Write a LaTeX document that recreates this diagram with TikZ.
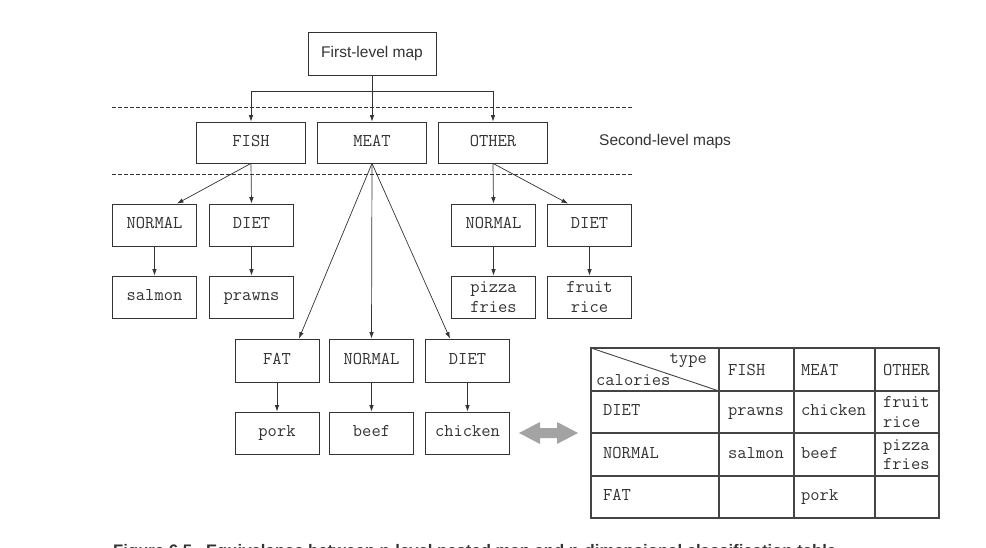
\documentclass[tikz,border=0pt]{standalone}
\usepackage{fontspec}
\setmainfont{Liberation Sans}
\usetikzlibrary{arrows.meta,calc}
\definecolor{ink}{HTML}{333333}
\definecolor{tblink}{HTML}{444444}
\definecolor{arrowgray}{HTML}{A3A3A3}
\newcommand\sansf{\fontsize{15.5}{18}\selectfont}
\newcommand\monof{\ttfamily\fontsize{18}{19.5}\selectfont}
\begin{document}
\begin{tikzpicture}[x=1pt,y=-1pt,
  box/.style={draw=ink, line width=0.8pt, minimum width=84pt, minimum height=42pt,
    inner sep=0pt, font=\monof, text=ink, align=center},
  sbox/.style={box, text height=11pt, text depth=3.5pt},
  wbox/.style={sbox, minimum width=109pt, minimum height=41pt},
  conn/.style={draw=ink, line width=0.7pt, -{Latex[length=6.5pt,width=4.5pt]}},
  dline/.style={draw=ink, line width=0.7pt, dash pattern=on 3.5pt off 2.5pt},
  tbl/.style={draw=tblink, line width=1.2pt},
  cell/.style={anchor=west, inner sep=0pt, font=\monof, text=ink, align=left},
  scell/.style={cell, text height=11pt, text depth=3.5pt}]
\useasboundingbox (0,0) rectangle (986,548);

% top level
\node[box, font=\sansf, minimum width=128pt, minimum height=43pt] (first) at (372,53.5) {First-level map};
\node[wbox] (fish) at (251,142.5) {FISH};
\node[wbox] (meat) at (372,142.5) {MEAT};
\node[wbox] (other) at (493,142.5) {OTHER};
\node[anchor=west, inner sep=0pt, font=\sansf, text=ink] (secondlbl) at (599,141) {Second-level maps};

% dashed separators
\coordinate (d1a) at (112,107.5); \coordinate (d1b) at (632,107.5);
\coordinate (d2a) at (112,174.5); \coordinate (d2b) at (632,174.5);
\draw[dline] (d1a) -- (d1b);
\draw[dline] (d2a) -- (d2b);

% third level
\node[sbox] (fnormal) at (154.5,225) {NORMAL};
\node[sbox] (fdiet) at (251.5,225) {DIET};
\node[sbox] (salmon) at (154.5,297) {salmon};
\node[sbox] (prawns) at (251.5,297) {prawns};

\node[sbox] (onormal) at (493.5,225) {NORMAL};
\node[sbox] (odiet) at (589.5,225) {DIET};
\node[box] (pizza) at (493.5,297) {pizza\\fries};
\node[box] (fruit) at (589.5,297) {fruit\\rice};

\node[sbox, minimum height=43pt] (mfat) at (277,360.5) {FAT};
\node[sbox, minimum height=43pt] (mnormal) at (371.5,360.5) {NORMAL};
\node[sbox, minimum height=43pt] (mdiet) at (467.5,360.5) {DIET};
\node[sbox] (pork) at (277,433) {pork};
\node[sbox] (beef) at (371.5,433) {beef};
\node[sbox] (chicken) at (467.5,433) {chicken};

% connectors
\coordinate (jn) at (372,91);
\draw[draw=ink, line width=0.7pt] (first.south) -- (jn);
\draw[conn] (jn) -| (fish.north);
\draw[conn] (jn) -| (other.north);
\draw[conn] (jn) -- (meat.north);

\draw[conn] (fish.south) -- ($(fnormal.north)+(22.5,0)$);
\draw[conn] (fish.south) -- (fdiet.north);
\draw[conn] (fnormal.south) -- (salmon.north);
\draw[conn] (fdiet.south) -- (prawns.north);

\draw[conn] (other.south) -- (onormal.north);
\draw[conn] (other.south) -- ($(odiet.north)+(-21.5,0)$);
\draw[conn] (onormal.south) -- (pizza.north);
\draw[conn] (odiet.south) -- (fruit.north);

\draw[conn] (meat.south) -- ($(mfat.north)+(22,0)$);
\draw[conn] (meat.south) -- (mnormal.north);
\draw[conn] (meat.south) -- ($(mdiet.north)+(-17.5,0)$);
\draw[conn] (mfat.south) -- (pork.north);
\draw[conn] (mnormal.south) -- (beef.north);
\draw[conn] (mdiet.south) -- (chicken.north);

% double arrow
\fill[arrowgray] (519,433) -- (540,422) -- (540,428) -- (557,428) -- (557,422)
  -- (578,433) -- (557,444) -- (557,438) -- (540,438) -- (540,444) -- cycle;

% table grid
\draw[tbl] (591,348) rectangle (939,518);
\draw[tbl] (719,348) -- (719,518);
\draw[tbl] (794,348) -- (794,518);
\draw[tbl] (875,348) -- (875,518);
\draw[tbl] (591,391) -- (939,391);
\draw[tbl] (591,433) -- (939,433);
\draw[tbl] (591,476) -- (939,476);
\draw[draw=tblink, line width=0.9pt] (591,348) -- (719,391);

% table texts
\node[scell, anchor=east] (ttype) at (707,360) {type};
\node[scell] (tcal) at (596,382) {calories};
\node[scell] (tfish) at (728,372) {FISH};
\node[scell] (tmeat) at (801,372) {MEAT};
\node[scell] (tother) at (883,372) {OTHER};

\node[scell] (tdiet) at (603,412) {DIET};
\node[scell] (tprawns) at (728,412) {prawns};
\node[scell] (tchicken) at (801,412) {chicken};
\node[cell] (tfruit) at (883,412) {fruit\\rice};

\node[scell] (tnormal) at (603,454.5) {NORMAL};
\node[scell] (tsalmon) at (728,454.5) {salmon};
\node[scell] (tbeef) at (801,454.5) {beef};
\node[cell] (tpizza) at (883,454.5) {pizza\\fries};

\node[scell] (tfat) at (603,497) {FAT};
\node[scell] (tpork) at (801,497) {pork};

% caption (cut off at the bottom edge, as in the reference)
\node[anchor=base west, inner sep=0pt, text=ink, font=\bfseries\fontsize{16.7}{18}\selectfont] (caption) at (113,556)
  {Figure 6.5\hspace{14pt}Equivalence between n-level nested map and n-dimensional classification table};
\end{tikzpicture}
\end{document}
